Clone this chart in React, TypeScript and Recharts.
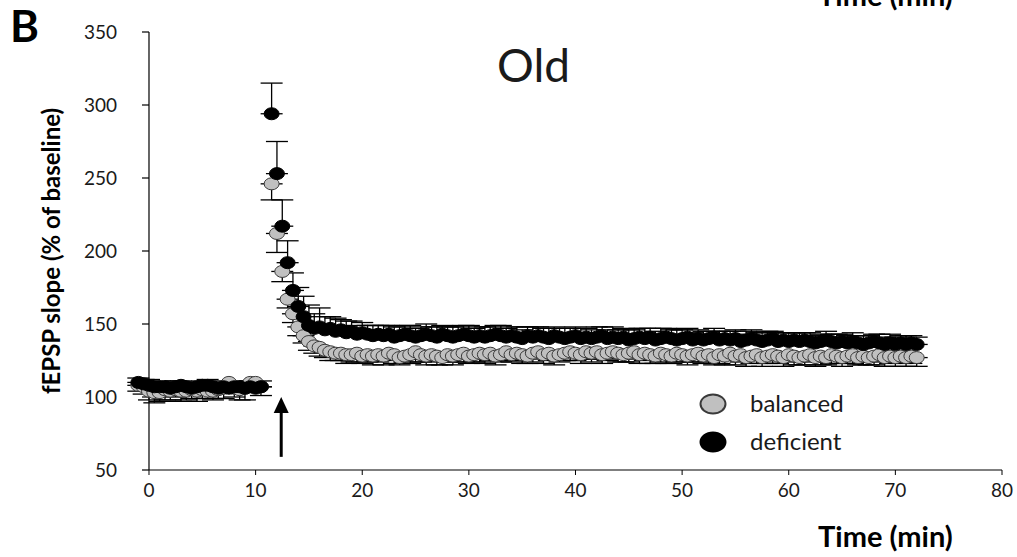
import React from "react";
import {
  ScatterChart,
  Scatter,
  XAxis,
  YAxis,
  ErrorBar,
  ReferenceLine,
} from "recharts";

// sampling: one sweep every 30 s
const STEP_MIN = 0.5;
const BASELINE_START = -1;
const POST_START = 11.5;
const TETANUS_AT = 12.4;

const xTicks = [0, 10, 20, 30, 40, 50, 60, 70, 80];
const yTicks = [50, 100, 150, 200, 250, 300, 350];

// baseline, -1 .. 10.5 min
const balancedBaseline = [108, 107, 104, 103, 103, 105, 104, 105, 104, 104, 105, 104, 105, 104, 104, 105, 106, 110, 106, 105, 106, 110, 110, 107];
const balancedBaselineSem = [4, 5, 6, 7, 6, 7, 6, 5, 7, 6, 6, 7, 6, 5, 6, 6, 7, 5, 6, 7, 8, 6, 5, 6];
const deficientBaseline = [110, 109, 108, 107, 107, 107, 106, 107, 108, 107, 106, 107, 108, 108, 107, 106, 107, 106, 107, 107, 106, 107, 106, 107];
const deficientBaselineSem = [3, 3, 4, 3, 4, 3, 3, 4, 3, 3, 4, 3, 3, 4, 3, 3, 4, 3, 3, 4, 3, 4, 3, 4];

// after tetanus, 11.5 .. 72 min
const balancedPost = [
  246, 212, 186, 167, 157, 148, 142, 138, 135, 134,
  132, 131, 130, 130, 129, 129, 130, 128, 129, 128,
  129, 128, 130, 129, 127, 128, 129, 131, 129, 128,
  129, 128, 127, 129, 128, 129, 130, 128, 129, 130,
  129, 130, 128, 129, 131, 129, 130, 129, 128, 130,
  131, 129, 130, 128, 129, 130, 131, 130, 129, 131,
  130, 131, 129, 130, 131, 130, 129, 130, 131, 129,
  130, 129, 128, 130, 129, 128, 130, 129, 128, 129,
  130, 128, 129, 127, 129, 128, 130, 128, 129, 127,
  128, 129, 127, 128, 129, 128, 127, 129, 128, 127,
  128, 129, 127, 128, 127, 129, 128, 127, 128, 129,
  127, 128, 127, 128, 129, 127, 128, 127, 128, 127, 128, 127,
];
const balancedPostSem = [
  11, 13, 7, 6, 6, 6, 5, 6, 5, 6,
  5, 6, 5, 5, 6, 5, 6, 5, 5, 6,
  5, 6, 5, 6, 5, 5, 6, 7, 5, 6,
  5, 6, 5, 5, 6, 5, 6, 5, 5, 6,
  6, 5, 6, 5, 6, 5, 5, 6, 5, 6,
  5, 6, 5, 6, 5, 5, 6, 5, 6, 5,
  6, 5, 6, 5, 5, 6, 5, 6, 5, 6,
  5, 6, 5, 6, 6, 5, 6, 5, 6, 5,
  6, 5, 6, 5, 6, 6, 5, 6, 5, 6,
  5, 6, 6, 5, 6, 5, 6, 5, 6, 5,
  6, 5, 6, 6, 5, 6, 5, 6, 5, 6,
  5, 6, 5, 6, 5, 6, 5, 6, 5, 6, 5, 6,
];
const deficientPost = [
  294, 253, 217, 192, 173, 162, 155, 149, 147, 148,
  146, 147, 145, 146, 144, 145, 143, 144, 143, 142,
  143, 142, 143, 141, 142, 143, 142, 141, 142, 143,
  142, 141, 143, 142, 141, 142, 143, 142, 141, 142,
  141, 142, 143, 142, 141, 142, 141, 140, 142, 141,
  142, 141, 140, 142, 141, 140, 141, 142, 140, 141,
  140, 141, 142, 140, 141, 140, 141, 139, 140, 141,
  140, 141, 139, 140, 141, 140, 139, 140, 141, 139,
  140, 139, 140, 141, 139, 140, 139, 140, 138, 139,
  140, 139, 138, 139, 140, 138, 139, 138, 139, 138,
  139, 138, 137, 138, 139, 138, 137, 138, 137, 138,
  137, 136, 137, 138, 137, 136, 137, 136, 137, 136, 137, 136,
];
const deficientPostSem = [
  21, 22, 18, 15, 12, 13, 14, 14, 10, 13,
  9, 8, 9, 7, 8, 7, 6, 7, 6, 7,
  6, 7, 6, 7, 6, 6, 7, 6, 6, 7,
  6, 7, 6, 6, 7, 6, 6, 7, 6, 6,
  7, 6, 6, 7, 6, 6, 7, 6, 6, 7,
  6, 6, 7, 6, 6, 7, 6, 6, 7, 6,
  6, 7, 6, 6, 7, 6, 6, 7, 6, 6,
  7, 6, 6, 7, 6, 6, 7, 6, 6, 5,
  6, 6, 5, 6, 6, 5, 6, 6, 5, 6,
  6, 5, 6, 6, 5, 6, 5, 6, 5, 6,
  5, 6, 5, 5, 6, 5, 6, 5, 5, 6,
  5, 6, 5, 5, 6, 5, 6, 5, 5, 6, 5, 5,
];

type Side = "down" | "up";

function buildSeries(base: number[], baseSem: number[], post: number[], postSem: number[], side: Side) {
  const bar = (e: number) => (side === "down" ? [e, 0] : [0, e]);
  const pts = base.map((v, i) => ({ t: BASELINE_START + i * STEP_MIN, v, err: bar(baseSem[i]) }));
  post.forEach((v, i) => pts.push({ t: POST_START + i * STEP_MIN, v, err: bar(postSem[i]) }));
  return pts;
}

const balancedData = buildSeries(balancedBaseline, balancedBaselineSem, balancedPost, balancedPostSem, "down");
const deficientData = buildSeries(deficientBaseline, deficientBaselineSem, deficientPost, deficientPostSem, "up");

const FONT = "Lato, 'Open Sans', sans-serif";

const series = [
  { name: "balanced", fill: "#c0c0c0", stroke: "#3a3a3a" },
  { name: "deficient", fill: "#000000", stroke: "#000000" },
];

const Marker = (fill: string, stroke: string) => (props: any) => (
  <ellipse cx={props.cx} cy={props.cy} rx={7.5} ry={6} fill={fill} stroke={stroke} strokeWidth={1} />
);

const Arrow = (props: any) => {
  const { x1, y1, y2 } = props;
  const top = Math.min(y1, y2);
  const bottom = Math.max(y1, y2);
  return (
    <g>
      <line x1={x1} x2={x1} y1={top + 14} y2={bottom} stroke="#000" strokeWidth={3} />
      <polygon points={`${x1},${top} ${x1 - 7.5},${top + 16} ${x1 + 7.5},${top + 16}`} fill="#000" />
    </g>
  );
};

const LegendBox = () => (
  <div style={{ position: "absolute", left: 698, top: 385, fontFamily: FONT, fontSize: 24, color: "#1a1a1a" }}>
    {series.map((s) => (
      <div key={s.name} style={{ display: "flex", alignItems: "center", height: 38 }}>
        <svg width={30} height={24}>
          <ellipse cx={15} cy={12} rx={12.5} ry={9.5} fill={s.fill} stroke={s.stroke} strokeWidth={2} />
        </svg>
        <span style={{ marginLeft: 22, marginTop: -4 }}>{s.name}</span>
      </div>
    ))}
  </div>
);

const headStyle = { position: "absolute" as const, fontFamily: FONT, fontWeight: 700, fontSize: 29, color: "#000", lineHeight: 1.2 };

export default function App() {
  return (
    <div style={{ position: "absolute", left: 0, top: 0, width: 1017, height: 557, background: "#fff", overflow: "hidden" }}>
      <ScatterChart width={1017} height={557} margin={{ top: 32, right: 15, bottom: 57, left: 0 }}>
        <XAxis
          type="number"
          dataKey="t"
          domain={[-1.5, 80]}
          ticks={xTicks}
          axisLine={false}
          tickLine={{ stroke: "#000" }}
          tickSize={5}
          tickMargin={9}
          height={30}
          tick={{ fontFamily: FONT, fontSize: 19, fill: "#1a1a1a" }}
        />
        <YAxis
          type="number"
          dataKey="v"
          domain={[50, 350]}
          ticks={yTicks}
          axisLine={false}
          tickLine={false}
          tickSize={0}
          tickMargin={16}
          width={133}
          tick={{ fontFamily: FONT, fontSize: 19, fill: "#1a1a1a" }}
          label={{
            value: "fEPSP slope (% of baseline)",
            angle: -90,
            position: "insideLeft",
            offset: 51,
            style: { textAnchor: "middle", fontFamily: FONT, fontWeight: 700, fontSize: 24, fill: "#000" },
          }}
        />
        <ReferenceLine segment={[{ x: 0, y: 50 }, { x: 0, y: 350 }]} stroke="#000" strokeWidth={1.2} />
        <ReferenceLine segment={[{ x: 0, y: 50 }, { x: 80, y: 50 }]} stroke="#000" strokeWidth={1.2} />
        {yTicks.map((v) => (
          <ReferenceLine key={v} segment={[{ x: -0.66, y: v }, { x: 0, y: v }]} stroke="#000" strokeWidth={1.2} />
        ))}
        <ReferenceLine segment={[{ x: TETANUS_AT, y: 59 }, { x: TETANUS_AT, y: 100 }]} shape={Arrow} />
        <Scatter
          name="balanced"
          data={balancedData}
          shape={Marker(series[0].fill, series[0].stroke)}
          isAnimationActive={false}
        >
          <ErrorBar dataKey="err" direction="y" width={11} stroke="#000" strokeWidth={1.3} />
        </Scatter>
        <Scatter
          name="deficient"
          data={deficientData}
          shape={Marker(series[1].fill, series[1].stroke)}
          isAnimationActive={false}
        >
          <ErrorBar dataKey="err" direction="y" width={11} stroke="#000" strokeWidth={1.3} />
        </Scatter>
      </ScatterChart>
      <div style={{ ...headStyle, left: 10, top: 3, fontSize: 44, lineHeight: 1 }}>B</div>
      <div style={{ ...headStyle, left: 497, top: 37, fontSize: 46, fontWeight: 400, color: "#1a1a1a" }}>Old</div>
      <div style={{ ...headStyle, left: 818, top: -22 }}>Time (min)</div>
      <div style={{ ...headStyle, left: 818, top: 519 }}>Time (min)</div>
      <LegendBox />
    </div>
  );
}
